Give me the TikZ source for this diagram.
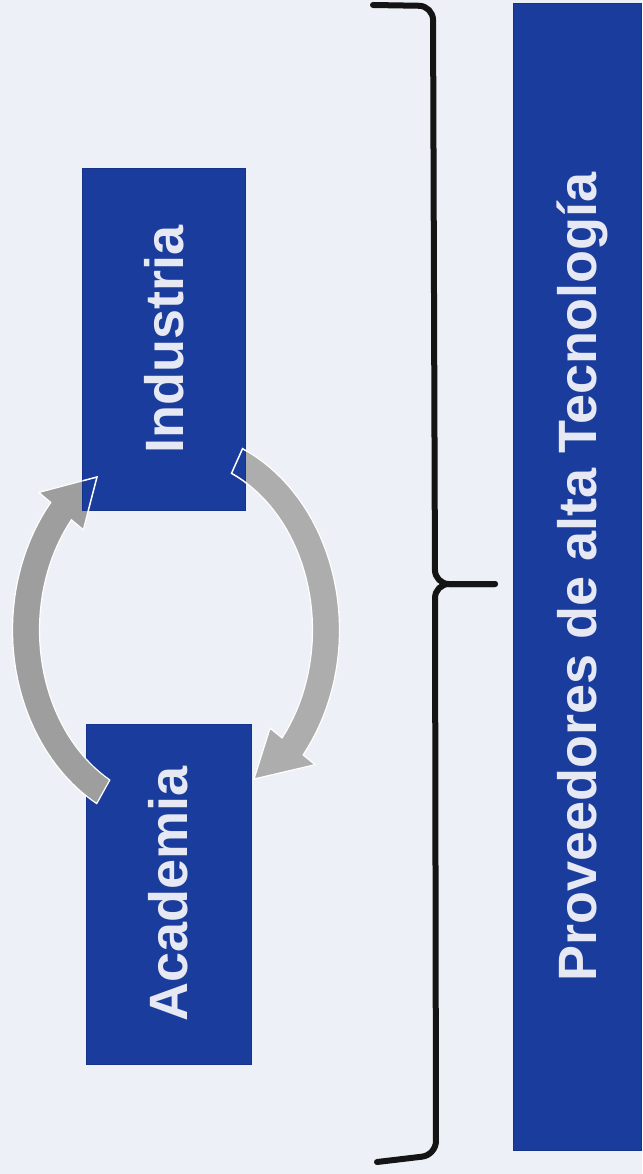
\documentclass[tikz,border=0pt]{standalone}
\usepackage{fontspec}
\setmainfont{Liberation Sans}
\definecolor{bgcol}{HTML}{EEF0F7}
\definecolor{boxblue}{HTML}{1A3C9C}
\definecolor{boxedge}{HTML}{15338A}
\definecolor{boxtext}{HTML}{E6E9F3}
\definecolor{grayL}{HTML}{9E9E9E}
\definecolor{grayR}{HTML}{ADADAD}
\definecolor{bracecol}{HTML}{141414}
\begin{document}
\begin{tikzpicture}[x=1pt,y=-1pt,
  box/.style={fill=boxblue, draw=boxedge, line width=1pt, text=boxtext,
    font=\fontsize{54}{64}\selectfont\bfseries, inner sep=0pt, rotate=90},
  arrowfill/.style={draw=white, line width=1.2pt},
  bracestyle/.style={draw=bracecol, line width=6pt, line cap=round, line join=round, rounded corners=14pt}]
\fill[bgcol] (0,0) rectangle (642,1174);
\useasboundingbox (0,0) rectangle (642,1174);

% right column box
\node[box, minimum width=1146pt, minimum height=128pt, text depth=0pt] (prov) at (577,577) {Proveedores de alta Tecnología};

% brace
\coordinate (btop) at (373,5);
\coordinate (bc1) at (433,6);
\coordinate (bmid) at (435,584);
\coordinate (btip) at (495,584);
\coordinate (bc2) at (436,1155);
\coordinate (bbot) at (377,1162);
\draw[bracestyle] (btop) -- (bc1) -- (bmid) -- (btip);
\draw[bracestyle] (bbot) -- (bc2) -- (bmid) -- (btip);

% Academia box (below arrows)
\node[box, minimum width=340pt, minimum height=165pt] (aca) at (168.5,894) {Academia};

% arrow key points
\coordinate (LBo) at ({176+179*cos(220)},{630+214*sin(220)});
\coordinate (LTip) at (97,477);
\coordinate (LBi) at ({176+121*cos(220)},{630+156*sin(220)});
\coordinate (RBo) at ({176+179*cos(39)},{630+214*sin(39)});
\coordinate (RTip) at (254,779);
\coordinate (RBi) at ({176+121*cos(39)},{630+156*sin(39)});

% left arrow: Academia -> Industria
\filldraw[arrowfill, fill=grayL]
  plot[domain=119:220, samples=40, variable=\t] ({176+163.5*cos(\t)},{630+198.5*sin(\t)})
  -- (LBo) -- (LTip) -- (LBi)
  -- plot[domain=220:119, samples=40, variable=\t] ({176+136.5*cos(\t)},{630+171.5*sin(\t)})
  -- cycle;
% right arrow: Industria -> Academia
\filldraw[arrowfill, fill=grayR]
  plot[domain=-66:39, samples=40, variable=\t] ({176+163.5*cos(\t)},{630+198.5*sin(\t)})
  -- (RBo) -- (RTip) -- (RBi)
  -- plot[domain=39:-66, samples=40, variable=\t] ({176+136.5*cos(\t)},{630+171.5*sin(\t)})
  -- cycle;

% Industria box (above arrows)
\node[box, minimum width=341pt, minimum height=163pt] (ind) at (164.4,339.5) {Industria};

% white outlines of arrow parts hidden under Industria
\begin{scope}
  \clip (ind.south west) rectangle (ind.north east);
  \draw[white, line width=1.5pt]
    plot[domain=119:220, samples=40, variable=\t] ({176+163.5*cos(\t)},{630+198.5*sin(\t)})
    -- (LBo) -- (LTip) -- (LBi)
    -- plot[domain=220:119, samples=40, variable=\t] ({176+136.5*cos(\t)},{630+171.5*sin(\t)})
    -- cycle;
  \draw[white, line width=1.5pt]
    plot[domain=-66:39, samples=40, variable=\t] ({176+163.5*cos(\t)},{630+198.5*sin(\t)})
    -- (RBo) -- (RTip) -- (RBi)
    -- plot[domain=39:-66, samples=40, variable=\t] ({176+136.5*cos(\t)},{630+171.5*sin(\t)})
    -- cycle;
\end{scope}
\end{tikzpicture}
\end{document}
